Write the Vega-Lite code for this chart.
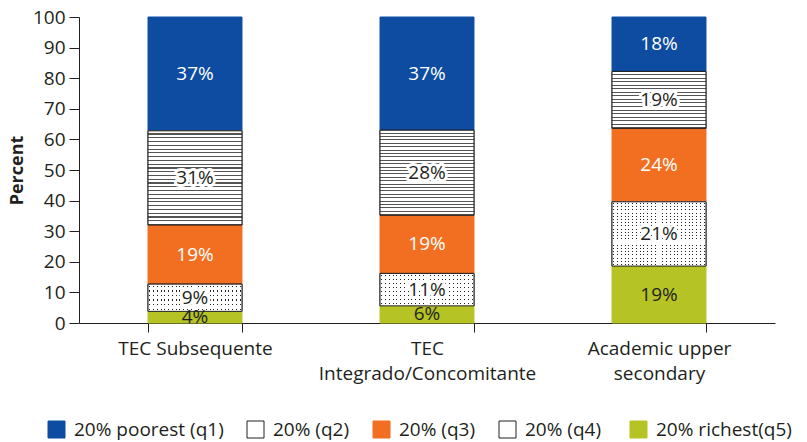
{
  "$schema": "https://vega.github.io/schema/vega-lite/v6.json",
  "width": 696,
  "height": 306,
  "autosize": {"type": "none"},
  "padding": {"left": 79, "top": 17, "right": 32, "bottom": 119},
  "background": "#ffffff",
  "config": {
    "font": "Open Sans",
    "view": {"stroke": null},
    "axisY": {"grid": false, "tickCount": 11, "tickSize": 10, "labelPadding": 4, "labelFontSize": 19, "labelColor": "#231F20", "domainColor": "#231F20", "tickColor": "#231F20", "titleFontSize": 18, "titleFontWeight": "bold", "titleColor": "#231F20", "titleX": -62, "titleY": 153, "titleAngle": -90, "titleAlign": "center", "titleBaseline": "middle"},
    "axisX": {"grid": false, "tickSize": 9, "labelPadding": 7, "labelFontSize": 19, "labelColor": "#231F20", "domainColor": "#231F20", "tickColor": "#231F20", "labelAngle": 0, "labelLimit": 0}
  },
  "data": {"values": [
    {"cat": "TEC Subsequente", "q": "q1", "v": 37.2, "lab": "37%"},
    {"cat": "TEC Subsequente", "q": "q2", "v": 30.8, "lab": "31%"},
    {"cat": "TEC Subsequente", "q": "q3", "v": 19.3, "lab": "19%"},
    {"cat": "TEC Subsequente", "q": "q4", "v": 8.9, "lab": "9%"},
    {"cat": "TEC Subsequente", "q": "q5", "v": 3.8, "lab": "4%"},
    {"cat": "TEC|Integrado/Concomitante", "q": "q1", "v": 37.0, "lab": "37%"},
    {"cat": "TEC|Integrado/Concomitante", "q": "q2", "v": 27.8, "lab": "28%"},
    {"cat": "TEC|Integrado/Concomitante", "q": "q3", "v": 19.0, "lab": "19%"},
    {"cat": "TEC|Integrado/Concomitante", "q": "q4", "v": 10.6, "lab": "11%"},
    {"cat": "TEC|Integrado/Concomitante", "q": "q5", "v": 5.6, "lab": "6%"},
    {"cat": "Academic upper|secondary", "q": "q1", "v": 17.8, "lab": "18%"},
    {"cat": "Academic upper|secondary", "q": "q2", "v": 18.6, "lab": "19%"},
    {"cat": "Academic upper|secondary", "q": "q3", "v": 24.0, "lab": "24%"},
    {"cat": "Academic upper|secondary", "q": "q4", "v": 21.0, "lab": "21%"},
    {"cat": "Academic upper|secondary", "q": "q5", "v": 18.6, "lab": "19%"}
  ]},
  "transform": [
    {"stack": "v", "groupby": ["cat"], "sort": [{"field": "q", "order": "descending"}], "as": ["v0", "v1"]},
    {"calculate": "(datum.v0 + datum.v1) / 2", "as": "mid"}
  ],
  "encoding": {
    "x": {"field": "cat", "type": "nominal", "sort": null, "title": null,
      "scale": {"paddingInner": 0.595, "paddingOuter": 0.2975},
      "axis": {"labelExpr": "split(datum.label, '|')", "labelLineHeight": 25, "tickBand": "extent", "labelBaseline": "top", "labelLimit": 0}}
  },
  "layer": [
    {
      "mark": {"type": "bar", "strokeWidth": 1},
      "encoding": {
        "y": {"field": "v0", "type": "quantitative", "title": "Percent", "scale": {"domain": [0, 100], "nice": false}},
        "y2": {"field": "v1"},
        "fill": {"field": "q", "type": "nominal", "title": null,
          "scale": {"domain": ["q1", "q2", "q3", "q4", "q5"], "range": ["#0D4CA1", "#ffffff", "#F26F22", "#ffffff", "#B5C424"]},
          "legend": {"orient": "none", "legendX": -32, "legendY": 403, "direction": "horizontal", "columns": 5, "symbolType": "square", "symbolSize": 289, "symbolStrokeWidth": 1, "labelFontSize": 19, "labelColor": "#231F20", "labelOffset": 8, "columnPadding": 21,
            "labelExpr": "{'q1': '20% poorest (q1)', 'q2': '20% (q2)', 'q3': '20% (q3)', 'q4': '20%  (q4)', 'q5': '20% richest(q5)'}[datum.value]"}},
        "stroke": {"field": "q", "type": "nominal", "title": null,
          "scale": {"domain": ["q1", "q2", "q3", "q4", "q5"], "range": ["#0D4CA1", "#231F20", "#F26F22", "#231F20", "#B5C424"]}}
      }
    },
    {
      "transform": [{"filter": "datum.q == 'q2'"}],
      "mark": {"type": "bar", "stroke": "#231F20", "strokeWidth": 1},
      "encoding": {
        "y": {"field": "v0", "type": "quantitative", "title": "Percent", "scale": {"domain": [0, 100], "nice": false}},
        "y2": {"field": "v1"},
        "fill": {
          "condition": {"test": "datum.cat == 'Academic upper|secondary'", "value": {"gradient": "linear", "x1": 0, "y1": 0, "x2": 0, "y2": 1, "stops": [
            {"offset": 0, "color": "#fff"}, {"offset": 0.04375, "color": "#fff"}, {"offset": 0.04375, "color": "#555"}, {"offset": 0.0625, "color": "#555"},
            {"offset": 0.0625, "color": "#fff"}, {"offset": 0.10625, "color": "#fff"}, {"offset": 0.10625, "color": "#555"}, {"offset": 0.125, "color": "#555"},
            {"offset": 0.125, "color": "#fff"}, {"offset": 0.16875, "color": "#fff"}, {"offset": 0.16875, "color": "#555"}, {"offset": 0.1875, "color": "#555"},
            {"offset": 0.1875, "color": "#fff"}, {"offset": 0.23125, "color": "#fff"}, {"offset": 0.23125, "color": "#555"}, {"offset": 0.25, "color": "#555"},
            {"offset": 0.25, "color": "#fff"}, {"offset": 0.29375, "color": "#fff"}, {"offset": 0.29375, "color": "#555"}, {"offset": 0.3125, "color": "#555"},
            {"offset": 0.3125, "color": "#fff"}, {"offset": 0.35625, "color": "#fff"}, {"offset": 0.35625, "color": "#555"}, {"offset": 0.375, "color": "#555"},
            {"offset": 0.375, "color": "#fff"}, {"offset": 0.41875, "color": "#fff"}, {"offset": 0.41875, "color": "#555"}, {"offset": 0.4375, "color": "#555"},
            {"offset": 0.4375, "color": "#fff"}, {"offset": 0.48125, "color": "#fff"}, {"offset": 0.48125, "color": "#555"}, {"offset": 0.5, "color": "#555"},
            {"offset": 0.5, "color": "#fff"}, {"offset": 0.54375, "color": "#fff"}, {"offset": 0.54375, "color": "#555"}, {"offset": 0.5625, "color": "#555"},
            {"offset": 0.5625, "color": "#fff"}, {"offset": 0.60625, "color": "#fff"}, {"offset": 0.60625, "color": "#555"}, {"offset": 0.625, "color": "#555"},
            {"offset": 0.625, "color": "#fff"}, {"offset": 0.66875, "color": "#fff"}, {"offset": 0.66875, "color": "#555"}, {"offset": 0.6875, "color": "#555"},
            {"offset": 0.6875, "color": "#fff"}, {"offset": 0.73125, "color": "#fff"}, {"offset": 0.73125, "color": "#555"}, {"offset": 0.75, "color": "#555"},
            {"offset": 0.75, "color": "#fff"}, {"offset": 0.79375, "color": "#fff"}, {"offset": 0.79375, "color": "#555"}, {"offset": 0.8125, "color": "#555"},
            {"offset": 0.8125, "color": "#fff"}, {"offset": 0.85625, "color": "#fff"}, {"offset": 0.85625, "color": "#555"}, {"offset": 0.875, "color": "#555"},
            {"offset": 0.875, "color": "#fff"}, {"offset": 0.91875, "color": "#fff"}, {"offset": 0.91875, "color": "#555"}, {"offset": 0.9375, "color": "#555"},
            {"offset": 0.9375, "color": "#fff"}, {"offset": 0.98125, "color": "#fff"}, {"offset": 0.98125, "color": "#555"}, {"offset": 1, "color": "#555"}
          ]}},
          "value": {"gradient": "linear", "x1": 0, "y1": 0, "x2": 0, "y2": 1, "stops": [
            {"offset": 0, "color": "#fff"}, {"offset": 0.028, "color": "#fff"}, {"offset": 0.028, "color": "#555"}, {"offset": 0.04, "color": "#555"},
            {"offset": 0.04, "color": "#fff"}, {"offset": 0.068, "color": "#fff"}, {"offset": 0.068, "color": "#555"}, {"offset": 0.08, "color": "#555"},
            {"offset": 0.08, "color": "#fff"}, {"offset": 0.108, "color": "#fff"}, {"offset": 0.108, "color": "#555"}, {"offset": 0.12, "color": "#555"},
            {"offset": 0.12, "color": "#fff"}, {"offset": 0.148, "color": "#fff"}, {"offset": 0.148, "color": "#555"}, {"offset": 0.16, "color": "#555"},
            {"offset": 0.16, "color": "#fff"}, {"offset": 0.188, "color": "#fff"}, {"offset": 0.188, "color": "#555"}, {"offset": 0.2, "color": "#555"},
            {"offset": 0.2, "color": "#fff"}, {"offset": 0.228, "color": "#fff"}, {"offset": 0.228, "color": "#555"}, {"offset": 0.24, "color": "#555"},
            {"offset": 0.24, "color": "#fff"}, {"offset": 0.268, "color": "#fff"}, {"offset": 0.268, "color": "#555"}, {"offset": 0.28, "color": "#555"},
            {"offset": 0.28, "color": "#fff"}, {"offset": 0.308, "color": "#fff"}, {"offset": 0.308, "color": "#555"}, {"offset": 0.32, "color": "#555"},
            {"offset": 0.32, "color": "#fff"}, {"offset": 0.348, "color": "#fff"}, {"offset": 0.348, "color": "#555"}, {"offset": 0.36, "color": "#555"},
            {"offset": 0.36, "color": "#fff"}, {"offset": 0.388, "color": "#fff"}, {"offset": 0.388, "color": "#555"}, {"offset": 0.4, "color": "#555"},
            {"offset": 0.4, "color": "#fff"}, {"offset": 0.428, "color": "#fff"}, {"offset": 0.428, "color": "#555"}, {"offset": 0.44, "color": "#555"},
            {"offset": 0.44, "color": "#fff"}, {"offset": 0.468, "color": "#fff"}, {"offset": 0.468, "color": "#555"}, {"offset": 0.48, "color": "#555"},
            {"offset": 0.48, "color": "#fff"}, {"offset": 0.508, "color": "#fff"}, {"offset": 0.508, "color": "#555"}, {"offset": 0.52, "color": "#555"},
            {"offset": 0.52, "color": "#fff"}, {"offset": 0.548, "color": "#fff"}, {"offset": 0.548, "color": "#555"}, {"offset": 0.56, "color": "#555"},
            {"offset": 0.56, "color": "#fff"}, {"offset": 0.588, "color": "#fff"}, {"offset": 0.588, "color": "#555"}, {"offset": 0.6, "color": "#555"},
            {"offset": 0.6, "color": "#fff"}, {"offset": 0.628, "color": "#fff"}, {"offset": 0.628, "color": "#555"}, {"offset": 0.64, "color": "#555"},
            {"offset": 0.64, "color": "#fff"}, {"offset": 0.668, "color": "#fff"}, {"offset": 0.668, "color": "#555"}, {"offset": 0.68, "color": "#555"},
            {"offset": 0.68, "color": "#fff"}, {"offset": 0.708, "color": "#fff"}, {"offset": 0.708, "color": "#555"}, {"offset": 0.72, "color": "#555"},
            {"offset": 0.72, "color": "#fff"}, {"offset": 0.748, "color": "#fff"}, {"offset": 0.748, "color": "#555"}, {"offset": 0.76, "color": "#555"},
            {"offset": 0.76, "color": "#fff"}, {"offset": 0.788, "color": "#fff"}, {"offset": 0.788, "color": "#555"}, {"offset": 0.8, "color": "#555"},
            {"offset": 0.8, "color": "#fff"}, {"offset": 0.828, "color": "#fff"}, {"offset": 0.828, "color": "#555"}, {"offset": 0.84, "color": "#555"},
            {"offset": 0.84, "color": "#fff"}, {"offset": 0.868, "color": "#fff"}, {"offset": 0.868, "color": "#555"}, {"offset": 0.88, "color": "#555"},
            {"offset": 0.88, "color": "#fff"}, {"offset": 0.908, "color": "#fff"}, {"offset": 0.908, "color": "#555"}, {"offset": 0.92, "color": "#555"},
            {"offset": 0.92, "color": "#fff"}, {"offset": 0.948, "color": "#fff"}, {"offset": 0.948, "color": "#555"}, {"offset": 0.96, "color": "#555"},
            {"offset": 0.96, "color": "#fff"}, {"offset": 0.988, "color": "#fff"}, {"offset": 0.988, "color": "#555"}, {"offset": 1, "color": "#555"}
          ]}
        }
      }
    },
    {
      "transform": [{"filter": "datum.q == 'q4'"}],
      "mark": {"type": "bar"},
      "encoding": {
        "y": {"field": "v0", "type": "quantitative", "title": "Percent", "scale": {"domain": [0, 100], "nice": false}},
        "y2": {"field": "v1"},
        "fill": {
          "condition": [
            {"test": "datum.cat == 'TEC Subsequente'", "value": {"gradient": "linear", "x1": 0, "y1": 0, "x2": 0, "y2": 1, "stops": [
              {"offset": 0.0625, "color": "#fff"}, {"offset": 0.0625, "color": "#222"}, {"offset": 0.1042, "color": "#222"}, {"offset": 0.1042, "color": "#fff"},
              {"offset": 0.2292, "color": "#fff"}, {"offset": 0.2292, "color": "#222"}, {"offset": 0.2708, "color": "#222"}, {"offset": 0.2708, "color": "#fff"},
              {"offset": 0.3958, "color": "#fff"}, {"offset": 0.3958, "color": "#222"}, {"offset": 0.4375, "color": "#222"}, {"offset": 0.4375, "color": "#fff"},
              {"offset": 0.5625, "color": "#fff"}, {"offset": 0.5625, "color": "#222"}, {"offset": 0.6042, "color": "#222"}, {"offset": 0.6042, "color": "#fff"},
              {"offset": 0.7292, "color": "#fff"}, {"offset": 0.7292, "color": "#222"}, {"offset": 0.7708, "color": "#222"}, {"offset": 0.7708, "color": "#fff"},
              {"offset": 0.8958, "color": "#fff"}, {"offset": 0.8958, "color": "#222"}, {"offset": 0.9375, "color": "#222"}, {"offset": 0.9375, "color": "#fff"}
            ]}},
            {"test": "datum.cat == 'TEC|Integrado/Concomitante'", "value": {"gradient": "linear", "x1": 0, "y1": 0, "x2": 0, "y2": 1, "stops": [
              {"offset": 0.046875, "color": "#fff"}, {"offset": 0.046875, "color": "#222"}, {"offset": 0.078125, "color": "#222"}, {"offset": 0.078125, "color": "#fff"},
              {"offset": 0.171875, "color": "#fff"}, {"offset": 0.171875, "color": "#222"}, {"offset": 0.203125, "color": "#222"}, {"offset": 0.203125, "color": "#fff"},
              {"offset": 0.296875, "color": "#fff"}, {"offset": 0.296875, "color": "#222"}, {"offset": 0.328125, "color": "#222"}, {"offset": 0.328125, "color": "#fff"},
              {"offset": 0.421875, "color": "#fff"}, {"offset": 0.421875, "color": "#222"}, {"offset": 0.453125, "color": "#222"}, {"offset": 0.453125, "color": "#fff"},
              {"offset": 0.546875, "color": "#fff"}, {"offset": 0.546875, "color": "#222"}, {"offset": 0.578125, "color": "#222"}, {"offset": 0.578125, "color": "#fff"},
              {"offset": 0.671875, "color": "#fff"}, {"offset": 0.671875, "color": "#222"}, {"offset": 0.703125, "color": "#222"}, {"offset": 0.703125, "color": "#fff"},
              {"offset": 0.796875, "color": "#fff"}, {"offset": 0.796875, "color": "#222"}, {"offset": 0.828125, "color": "#222"}, {"offset": 0.828125, "color": "#fff"},
              {"offset": 0.921875, "color": "#fff"}, {"offset": 0.921875, "color": "#222"}, {"offset": 0.953125, "color": "#222"}, {"offset": 0.953125, "color": "#fff"}
            ]}}
          ],
          "value": {"gradient": "linear", "x1": 0, "y1": 0, "x2": 0, "y2": 1, "stops": [
            {"offset": 0.0175, "color": "#fff"}, {"offset": 0.0175, "color": "#222"}, {"offset": 0.0325, "color": "#222"}, {"offset": 0.0325, "color": "#fff"},
            {"offset": 0.0675, "color": "#fff"}, {"offset": 0.0675, "color": "#222"}, {"offset": 0.0825, "color": "#222"}, {"offset": 0.0825, "color": "#fff"},
            {"offset": 0.1175, "color": "#fff"}, {"offset": 0.1175, "color": "#222"}, {"offset": 0.1325, "color": "#222"}, {"offset": 0.1325, "color": "#fff"},
            {"offset": 0.1675, "color": "#fff"}, {"offset": 0.1675, "color": "#222"}, {"offset": 0.1825, "color": "#222"}, {"offset": 0.1825, "color": "#fff"},
            {"offset": 0.2175, "color": "#fff"}, {"offset": 0.2175, "color": "#222"}, {"offset": 0.2325, "color": "#222"}, {"offset": 0.2325, "color": "#fff"},
            {"offset": 0.2675, "color": "#fff"}, {"offset": 0.2675, "color": "#222"}, {"offset": 0.2825, "color": "#222"}, {"offset": 0.2825, "color": "#fff"},
            {"offset": 0.3175, "color": "#fff"}, {"offset": 0.3175, "color": "#222"}, {"offset": 0.3325, "color": "#222"}, {"offset": 0.3325, "color": "#fff"},
            {"offset": 0.3675, "color": "#fff"}, {"offset": 0.3675, "color": "#222"}, {"offset": 0.3825, "color": "#222"}, {"offset": 0.3825, "color": "#fff"},
            {"offset": 0.4175, "color": "#fff"}, {"offset": 0.4175, "color": "#222"}, {"offset": 0.4325, "color": "#222"}, {"offset": 0.4325, "color": "#fff"},
            {"offset": 0.4675, "color": "#fff"}, {"offset": 0.4675, "color": "#222"}, {"offset": 0.4825, "color": "#222"}, {"offset": 0.4825, "color": "#fff"},
            {"offset": 0.5175, "color": "#fff"}, {"offset": 0.5175, "color": "#222"}, {"offset": 0.5325, "color": "#222"}, {"offset": 0.5325, "color": "#fff"},
            {"offset": 0.5675, "color": "#fff"}, {"offset": 0.5675, "color": "#222"}, {"offset": 0.5825, "color": "#222"}, {"offset": 0.5825, "color": "#fff"},
            {"offset": 0.6175, "color": "#fff"}, {"offset": 0.6175, "color": "#222"}, {"offset": 0.6325, "color": "#222"}, {"offset": 0.6325, "color": "#fff"},
            {"offset": 0.6675, "color": "#fff"}, {"offset": 0.6675, "color": "#222"}, {"offset": 0.6825, "color": "#222"}, {"offset": 0.6825, "color": "#fff"},
            {"offset": 0.7175, "color": "#fff"}, {"offset": 0.7175, "color": "#222"}, {"offset": 0.7325, "color": "#222"}, {"offset": 0.7325, "color": "#fff"},
            {"offset": 0.7675, "color": "#fff"}, {"offset": 0.7675, "color": "#222"}, {"offset": 0.7825, "color": "#222"}, {"offset": 0.7825, "color": "#fff"},
            {"offset": 0.8175, "color": "#fff"}, {"offset": 0.8175, "color": "#222"}, {"offset": 0.8325, "color": "#222"}, {"offset": 0.8325, "color": "#fff"},
            {"offset": 0.8675, "color": "#fff"}, {"offset": 0.8675, "color": "#222"}, {"offset": 0.8825, "color": "#222"}, {"offset": 0.8825, "color": "#fff"},
            {"offset": 0.9175, "color": "#fff"}, {"offset": 0.9175, "color": "#222"}, {"offset": 0.9325, "color": "#222"}, {"offset": 0.9325, "color": "#fff"},
            {"offset": 0.9675, "color": "#fff"}, {"offset": 0.9675, "color": "#222"}, {"offset": 0.9825, "color": "#222"}, {"offset": 0.9825, "color": "#fff"}
          ]}
        }
      }
    },
    {
      "transform": [{"filter": "datum.q == 'q4'"}],
      "mark": {"type": "bar", "stroke": "#231F20", "strokeWidth": 1},
      "encoding": {
        "y": {"field": "v0", "type": "quantitative", "title": "Percent", "scale": {"domain": [0, 100], "nice": false}},
        "y2": {"field": "v1"},
        "fill": {"value": {"gradient": "linear", "x1": 0, "y1": 0, "x2": 1, "y2": 0, "stops": [
          {"offset": 0.015, "color": "#fff"}, {"offset": 0.015, "color": "rgba(255,255,255,0)"}, {"offset": 0.025, "color": "rgba(255,255,255,0)"}, {"offset": 0.025, "color": "#fff"},
          {"offset": 0.055, "color": "#fff"}, {"offset": 0.055, "color": "rgba(255,255,255,0)"}, {"offset": 0.065, "color": "rgba(255,255,255,0)"}, {"offset": 0.065, "color": "#fff"},
          {"offset": 0.095, "color": "#fff"}, {"offset": 0.095, "color": "rgba(255,255,255,0)"}, {"offset": 0.105, "color": "rgba(255,255,255,0)"}, {"offset": 0.105, "color": "#fff"},
          {"offset": 0.135, "color": "#fff"}, {"offset": 0.135, "color": "rgba(255,255,255,0)"}, {"offset": 0.145, "color": "rgba(255,255,255,0)"}, {"offset": 0.145, "color": "#fff"},
          {"offset": 0.175, "color": "#fff"}, {"offset": 0.175, "color": "rgba(255,255,255,0)"}, {"offset": 0.185, "color": "rgba(255,255,255,0)"}, {"offset": 0.185, "color": "#fff"},
          {"offset": 0.215, "color": "#fff"}, {"offset": 0.215, "color": "rgba(255,255,255,0)"}, {"offset": 0.225, "color": "rgba(255,255,255,0)"}, {"offset": 0.225, "color": "#fff"},
          {"offset": 0.255, "color": "#fff"}, {"offset": 0.255, "color": "rgba(255,255,255,0)"}, {"offset": 0.265, "color": "rgba(255,255,255,0)"}, {"offset": 0.265, "color": "#fff"},
          {"offset": 0.295, "color": "#fff"}, {"offset": 0.295, "color": "rgba(255,255,255,0)"}, {"offset": 0.305, "color": "rgba(255,255,255,0)"}, {"offset": 0.305, "color": "#fff"},
          {"offset": 0.335, "color": "#fff"}, {"offset": 0.335, "color": "rgba(255,255,255,0)"}, {"offset": 0.345, "color": "rgba(255,255,255,0)"}, {"offset": 0.345, "color": "#fff"},
          {"offset": 0.375, "color": "#fff"}, {"offset": 0.375, "color": "rgba(255,255,255,0)"}, {"offset": 0.385, "color": "rgba(255,255,255,0)"}, {"offset": 0.385, "color": "#fff"},
          {"offset": 0.415, "color": "#fff"}, {"offset": 0.415, "color": "rgba(255,255,255,0)"}, {"offset": 0.425, "color": "rgba(255,255,255,0)"}, {"offset": 0.425, "color": "#fff"},
          {"offset": 0.455, "color": "#fff"}, {"offset": 0.455, "color": "rgba(255,255,255,0)"}, {"offset": 0.465, "color": "rgba(255,255,255,0)"}, {"offset": 0.465, "color": "#fff"},
          {"offset": 0.495, "color": "#fff"}, {"offset": 0.495, "color": "rgba(255,255,255,0)"}, {"offset": 0.505, "color": "rgba(255,255,255,0)"}, {"offset": 0.505, "color": "#fff"},
          {"offset": 0.535, "color": "#fff"}, {"offset": 0.535, "color": "rgba(255,255,255,0)"}, {"offset": 0.545, "color": "rgba(255,255,255,0)"}, {"offset": 0.545, "color": "#fff"},
          {"offset": 0.575, "color": "#fff"}, {"offset": 0.575, "color": "rgba(255,255,255,0)"}, {"offset": 0.585, "color": "rgba(255,255,255,0)"}, {"offset": 0.585, "color": "#fff"},
          {"offset": 0.615, "color": "#fff"}, {"offset": 0.615, "color": "rgba(255,255,255,0)"}, {"offset": 0.625, "color": "rgba(255,255,255,0)"}, {"offset": 0.625, "color": "#fff"},
          {"offset": 0.655, "color": "#fff"}, {"offset": 0.655, "color": "rgba(255,255,255,0)"}, {"offset": 0.665, "color": "rgba(255,255,255,0)"}, {"offset": 0.665, "color": "#fff"},
          {"offset": 0.695, "color": "#fff"}, {"offset": 0.695, "color": "rgba(255,255,255,0)"}, {"offset": 0.705, "color": "rgba(255,255,255,0)"}, {"offset": 0.705, "color": "#fff"},
          {"offset": 0.735, "color": "#fff"}, {"offset": 0.735, "color": "rgba(255,255,255,0)"}, {"offset": 0.745, "color": "rgba(255,255,255,0)"}, {"offset": 0.745, "color": "#fff"},
          {"offset": 0.775, "color": "#fff"}, {"offset": 0.775, "color": "rgba(255,255,255,0)"}, {"offset": 0.785, "color": "rgba(255,255,255,0)"}, {"offset": 0.785, "color": "#fff"},
          {"offset": 0.815, "color": "#fff"}, {"offset": 0.815, "color": "rgba(255,255,255,0)"}, {"offset": 0.825, "color": "rgba(255,255,255,0)"}, {"offset": 0.825, "color": "#fff"},
          {"offset": 0.855, "color": "#fff"}, {"offset": 0.855, "color": "rgba(255,255,255,0)"}, {"offset": 0.865, "color": "rgba(255,255,255,0)"}, {"offset": 0.865, "color": "#fff"},
          {"offset": 0.895, "color": "#fff"}, {"offset": 0.895, "color": "rgba(255,255,255,0)"}, {"offset": 0.905, "color": "rgba(255,255,255,0)"}, {"offset": 0.905, "color": "#fff"},
          {"offset": 0.935, "color": "#fff"}, {"offset": 0.935, "color": "rgba(255,255,255,0)"}, {"offset": 0.945, "color": "rgba(255,255,255,0)"}, {"offset": 0.945, "color": "#fff"},
          {"offset": 0.975, "color": "#fff"}, {"offset": 0.975, "color": "rgba(255,255,255,0)"}, {"offset": 0.985, "color": "rgba(255,255,255,0)"}, {"offset": 0.985, "color": "#fff"}
        ]}}
      }
    },
    {
      "transform": [{"filter": "datum.q == 'q2' || datum.q == 'q4'"}],
      "mark": {"type": "text", "fontSize": 19, "fill": "#ffffff", "stroke": "#ffffff", "strokeWidth": 6, "strokeJoin": "round", "baseline": "middle"},
      "encoding": {
        "y": {"field": "mid", "type": "quantitative", "title": "Percent", "scale": {"domain": [0, 100], "nice": false}},
        "text": {"field": "lab"}
      }
    },
    {
      "mark": {"type": "text", "fontSize": 19, "baseline": "middle"},
      "encoding": {
        "y": {"field": "mid", "type": "quantitative", "title": "Percent", "scale": {"domain": [0, 100], "nice": false}},
        "text": {"field": "lab"},
        "color": {"condition": {"test": "datum.q == 'q1' || datum.q == 'q3'", "value": "#ffffff"}, "value": "#231F20"}
      }
    }
  ]
}
